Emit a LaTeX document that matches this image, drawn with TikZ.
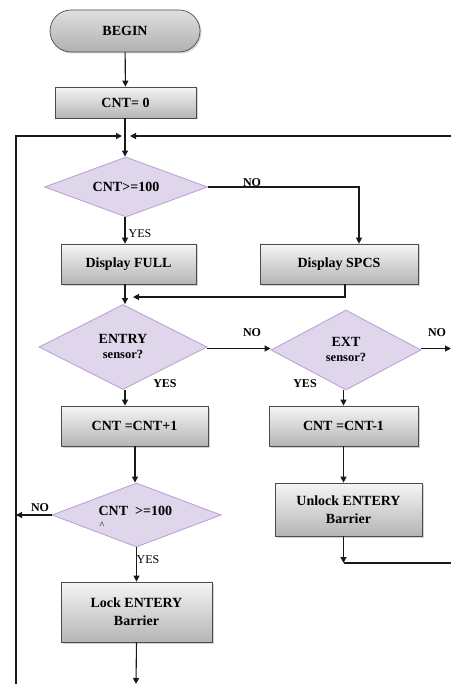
\documentclass[tikz,border=0pt]{standalone}
\usepackage{fontspec}
\setmainfont{Liberation Serif}
\usetikzlibrary{shapes.geometric,shadows,arrows.meta,calc}
\definecolor{lav}{RGB}{224,214,236}
\definecolor{lavd}{RGB}{185,165,212}
\begin{document}
\begin{tikzpicture}[x=1pt,y=-1pt,
  font=\bfseries\fontsize{14}{16}\selectfont,
  box/.style={draw=gray!60!black, line width=0.7pt, top color=gray!8, bottom color=gray!58,
    drop shadow={shadow xshift=1.5pt,shadow yshift=-1.5pt,opacity=0.35},
    align=center, inner sep=0pt},
  term/.style={box, rounded corners=21pt, top color=gray!25, bottom color=gray!62},
  dec/.style={diamond, aspect=2.6, draw=lavd, line width=0.9pt, fill=lav,
    align=center, inner sep=0pt},
  ln/.style={line width=1.1pt, black!90},
  ar/.style={ln, -{Triangle[length=6pt,width=6pt]}},
  lbl/.style={font=\bfseries\fontsize{12}{13}\selectfont},
  lbln/.style={font=\fontsize{12}{13}\selectfont},
  small/.style={font=\bfseries\fontsize{12.5}{14}\selectfont}]
\useasboundingbox (0,0) rectangle (451,684);
\fill[white] (0,0) rectangle (451,684);

% nodes
\node[term, minimum width=150pt, minimum height=42pt] (begin) at (125,31) {BEGIN};
\node[box, minimum width=141pt, minimum height=31pt] (cnt0) at (125.5,102.5) {CNT= 0};
\node[dec, minimum width=163pt, minimum height=60pt] (d1) at (126,187) {CNT>=100};
\node[box, minimum width=135pt, minimum height=40pt] (full) at (128.5,264) {Display FULL};
\node[box, minimum width=158pt, minimum height=40pt] (spcs) at (339,264) {Display SPCS};
\node[dec, minimum width=168pt, minimum height=85pt] (d2) at (123,347) {ENTRY\\[-1pt]{\fontsize{12.5}{14}\selectfont sensor?}};
\node[dec, minimum width=150pt, minimum height=80pt] (d3) at (346,350) {EXT\\[-1pt]{\fontsize{12.5}{14}\selectfont sensor?}};
\node[box, minimum width=147pt, minimum height=40pt] (inc) at (134.5,426) {CNT =CNT+1};
\node[box, minimum width=149pt, minimum height=40pt] (dec) at (343.5,426) {CNT =CNT-1};
\node[dec, minimum width=169pt, minimum height=64pt] (d4) at (136.5,515) {};
\node[align=left, anchor=west] (d4t) at (95,511) {CNT\ \ >=100};
\node[font=\fontsize{10}{10}\selectfont, anchor=west] (d4c) at (96,525) {\^{}};
\node[box, minimum width=147pt, minimum height=53pt] (unlock) at (348.5,509.5) {Unlock ENTERY\\[2pt]Barrier};
\node[box, minimum width=151pt, minimum height=60pt] (lock) at (136.5,612) {Lock ENTERY\\[2pt]Barrier};

% coordinates
\coordinate (j1) at (125,136);
\coordinate (lt) at (16,136);
\coordinate (lb) at (16,684);
\coordinate (rt) at (451,136);
\coordinate (no1) at (359,187);
\coordinate (j2) at (125,297);
\coordinate (s2) at (345,297);
\coordinate (nr) at (451,348.5);
\coordinate (jl) at (16,515);
\coordinate (ub) at (346,563);
\coordinate (rb) at (451,563);
\coordinate (end) at (136,684);
\coordinate (c1) at (135,446);

% connectors
\draw[ar] (begin) -- (cnt0);
\draw[ar] (cnt0.south -| j1) -- (j1 |- d1.north);
\draw[ar] (lb) -- (lt) -- ($(j1)+(-3,0)$);
\draw[ar] (rt) -- ($(j1)+(5,0)$);
\draw[ar] (d1.east) -- (no1) -- (no1 |- spcs.north);
\draw[ar] (d1.south -| j1) -- (j1 |- full.north);
\draw[ar] (j1 |- full.south) -- (j1 |- d2.north);
\draw[ar] (s2 |- spcs.south) -- (s2) -- ($(j2)+(8,0)$);
\draw[ar] (d2.east |- nr) -- (d3.west |- nr);
\draw[ar] (d3.east |- nr) -- (nr);
\draw[ar] (j1 |- d2.south) -- (j1 |- inc.north);
\draw[ar] (d3.south -| dec.center) -- (dec.north);
\draw[ar] (c1) -- (c1 |- d4.north);
\draw[ar] (dec.south) -- (dec.south |- unlock.north);
\draw[ar] (d4.west) -- (jl);
\draw[ar] (d4.south) -- (lock.north);
\draw[ar] (unlock.south -| dec.center) -- (ub -| dec.center);
\draw[ln] (ub -| dec.center) -- (rb);
\draw[ar] (lock.south) -- (end);

% labels
\node[lbl] (noA) at (252,183) {NO};
\node[lbln] (yesA) at (140,234) {YES};
\node[lbl] (noB) at (252,333) {NO};
\node[lbl] (noC) at (437,333) {NO};
\node[lbl] (yesB) at (165,384) {YES};
\node[lbl] (yesC) at (305,384) {YES};
\node[lbl] (noD) at (40,508) {NO};
\node[lbln] (yesD) at (148,560) {YES};
\end{tikzpicture}
\end{document}
